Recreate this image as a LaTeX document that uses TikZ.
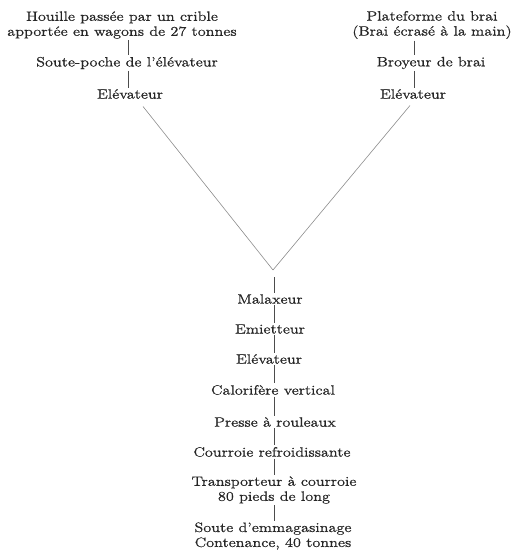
\documentclass[tikz,border=0pt]{standalone}
\usepackage{fontspec}
\setmainfont{Latin Modern Roman}[FakeStretch=1.2,FakeBold=0.8]
\begin{document}
\begin{tikzpicture}[x=1pt,y=-1pt,
  lbl/.style={font=\fontsize{13.5}{15}\selectfont, text=black!85, align=center, inner xsep=0pt, inner ysep=1.5pt},
  conn/.style={draw=black!70, line width=0.7pt},
  diag/.style={draw=black!45, line width=0.6pt}]
\useasboundingbox (0,0) rectangle (519,551);
% left column
\node[lbl] (h1) at (122,25) {Houille passée par un crible\\apportée en wagons de 27 tonnes};
\node[lbl] (l2) at (127,63) {Soute-poche de l'élévateur};
\node[lbl] (l3) at (130,94) {Elévateur};
% right column
\node[lbl] (r1) at (432,25) {Plateforme du brai\\(Brai écrasé à la main)};
\node[lbl] (r2) at (431,63) {Broyeur de brai};
\node[lbl] (r3) at (413,94) {Elévateur};
% centre column
\coordinate (apex) at (273,270);
\node[lbl] (c1) at (270,299) {Malaxeur};
\node[lbl] (c2) at (270,329) {Emietteur};
\node[lbl] (c3) at (269,359) {Elévateur};
\node[lbl] (c4) at (273,390) {Calorifère vertical};
\node[lbl] (c5) at (275,422) {Presse à rouleaux};
\node[lbl] (c6) at (272,452) {Courroie refroidissante};
\node[lbl] (c7) at (274,490) {Transporteur à courroie\\80 pieds de long};
\node[lbl] (c8) at (273,536) {Soute d'emmagasinage\\Contenance, 40 tonnes};
% connectors
\coordinate (xl) at (128,0);
\coordinate (xr) at (414,0);
\coordinate (xc) at (274,0);
\draw[conn] (h1.south -| xl) -- (l2.north -| xl);
\draw[conn] (l2.south -| xl) -- (l3.north -| xl);
\draw[conn] (r1.south -| xr) -- (r2.north -| xr);
\draw[conn] (r2.south -| xr) -- (r3.north -| xr);
\draw[diag] ([xshift=13pt,yshift=-6pt]l3.south) -- (apex);
\draw[diag] ([yshift=-5pt,xshift=-3pt]r3.south) -- (apex);
\draw[conn] ([yshift=-7pt]apex -| xc) -- (c1.north -| xc);
\draw[conn] (c1.south -| xc) -- (c2.north -| xc);
\draw[conn] (c2.south -| xc) -- (c3.north -| xc);
\draw[conn] (c3.south -| xc) -- (c4.north -| xc);
\draw[conn] (c4.south -| xc) -- (c5.north -| xc);
\draw[conn] (c5.south -| xc) -- (c6.north -| xc);
\draw[conn] (c6.south -| xc) -- (c7.north -| xc);
\draw[conn] (c7.south -| xc) -- (c8.north -| xc);
\end{tikzpicture}
\end{document}
